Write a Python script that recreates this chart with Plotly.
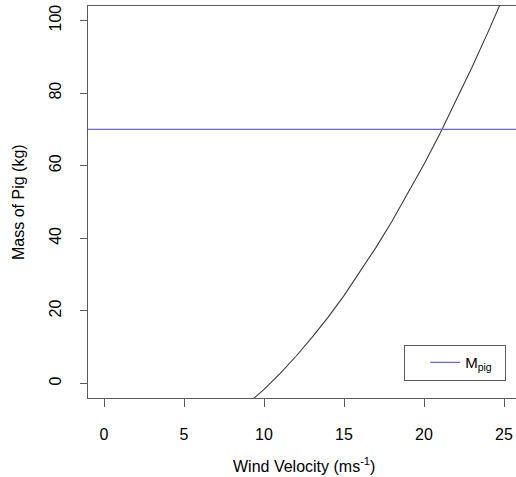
import plotly.graph_objects as go

# Wind velocity (m/s) and required pig mass (kg)
wind_velocity = [9, 10, 11, 12, 13, 14, 15, 16, 17, 18, 19, 20, 21, 22, 23, 24, 25]
pig_mass = [-5.5, -1.6, 2.7, 7.5, 12.7, 18.2, 24.2, 30.7, 37.5, 44.7, 52.4, 60.4, 68.9, 77.8, 87.1, 96.8, 106.9]

# Horizontal reference: mass of the pig
m_pig = 70

x_ticks = [0, 5, 10, 15, 20, 25]
y_ticks = [0, 20, 40, 60, 80, 100]
x_range = [-1, 25.75]
y_range = [-4, 104]

FONT = "Liberation Sans, Arial, Helvetica, sans-serif"
AX = "#5a5a5a"

fig = go.Figure()
fig.add_trace(go.Scatter(
    x=wind_velocity, y=pig_mass, mode="lines",
    line=dict(color="#3a3a3a", width=1.1), showlegend=False, hoverinfo="skip"))
fig.add_trace(go.Scatter(
    x=x_range, y=[m_pig, m_pig], mode="lines",
    line=dict(color="#6464ff", width=1.2), name="M<sub>pig</sub>&nbsp;&nbsp;"))

fig.update_layout(
    width=516, height=477,
    margin=dict(l=88, r=0, t=6, b=79),
    paper_bgcolor="white", plot_bgcolor="white",
    font=dict(family=FONT, size=16, color="black"),
    showlegend=True,
    legend=dict(x=0.977, y=0.043, xanchor="right", yanchor="bottom",
                bordercolor=AX, borderwidth=1, bgcolor="white",
                font=dict(size=15), itemwidth=30,
                title=dict(text="&nbsp;&nbsp;", side="left")),
    xaxis=dict(range=x_range, tickvals=x_ticks, showgrid=False, zeroline=False,
               showline=True, mirror=True, linecolor=AX, linewidth=1.3,
               ticks="outside", ticklen=8, tickcolor=AX, tickwidth=1.3,
               ticklabelstandoff=14, fixedrange=True),
    yaxis=dict(range=y_range, tickvals=y_ticks, showgrid=False, zeroline=False,
               showline=True, linecolor=AX, linewidth=1.3,
               ticks="outside", ticklen=7, tickcolor=AX, tickwidth=1.3,
               tickangle=-90, ticklabelstandoff=12, fixedrange=True),
    annotations=[
        dict(text="Wind Velocity (ms<sup>-1</sup>)", xref="x", yref="paper",
             x=12.5, y=-0.171, xanchor="center", yanchor="middle",
             showarrow=False, font=dict(size=16)),
        dict(text="Mass of Pig (kg)", xref="paper", yref="y",
             x=-0.1636, y=50, xanchor="center", yanchor="middle",
             textangle=-90, showarrow=False, font=dict(size=16)),
    ],
)

fig.write_html(
    "out.html",
    config={"displayModeBar": False},
    post_script="document.body.style.margin='0';document.body.style.overflow='hidden';",
)
